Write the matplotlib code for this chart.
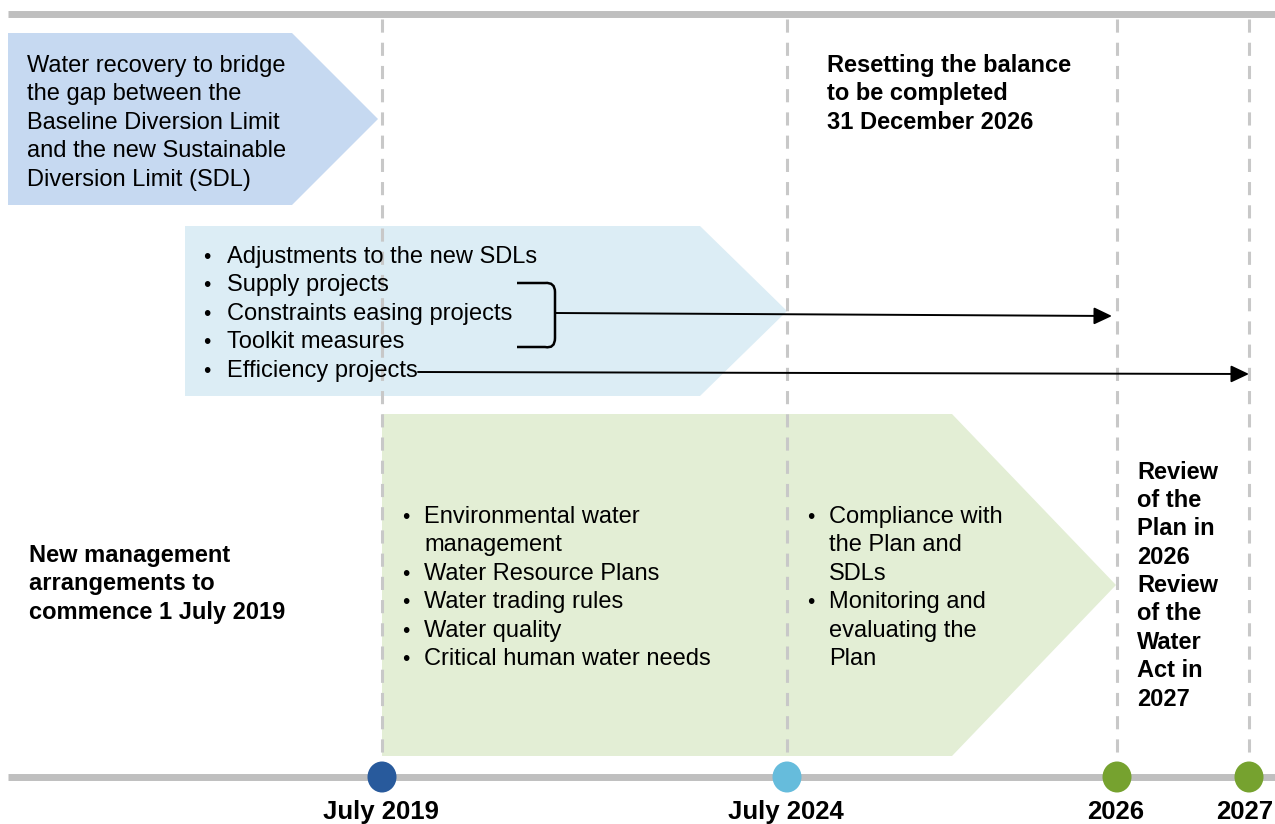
import matplotlib.pyplot as plt
from matplotlib.patches import Polygon, Ellipse, PathPatch
from matplotlib.path import Path

plt.rcParams['font.family'] = ['Liberation Sans', 'DejaVu Sans']

# ---- data (text of the timeline) ----
milestone_labels = ['July 2019', 'July 2024', '2026', '2027']
recovery_lines = ['Water recovery to bridge', 'the gap between the',
                  'Baseline Diversion Limit', 'and the new Sustainable',
                  'Diversion Limit (SDL)']
adjust_items = ['Adjustments to the new SDLs', 'Supply projects',
                'Constraints easing projects', 'Toolkit measures',
                'Efficiency projects']
mgmt_items = ['Environmental water\nmanagement', 'Water Resource Plans',
              'Water trading rules', 'Water quality',
              'Critical human water needs']
compliance_items = ['Compliance with\nthe Plan and\nSDLs',
                    'Monitoring and\nevaluating the\nPlan']
reset_lines = ['Resetting the balance', 'to be completed', '31 December 2026']
newmgmt_lines = ['New management', 'arrangements to', 'commence 1 July 2019']
review_lines = ['Review', 'of the', 'Plan in', '2026', 'Review', 'of the',
                'Water', 'Act in', '2027']

# ---- layout (pixel coords) ----
milestone_x = [382, 787, 1117, 1249]
milestone_colors = ['#285a9c', '#66bcdc', '#76a22f', '#76a22f']
gray = '#bfbfbf'
dash_gray = '#c8c8c8'
fs = 17
lh = 28.4

fig = plt.figure(figsize=(12.75, 8.24), dpi=100)
ax = fig.add_axes([0, 0, 1, 1])
ax.set_xlim(0, 1275)
ax.set_ylim(824, 0)
ax.axis('off')

# chevron shapes
def chevron(x0, x1, xtip, ytop, ybot, color):
    ymid = (ytop + ybot) / 2
    ax.add_patch(Polygon([(x0, ytop), (x1, ytop), (xtip, ymid), (x1, ybot), (x0, ybot)],
                         closed=True, facecolor=color, edgecolor='none', zorder=1))

chevron(8, 292, 378, 33, 205, '#c6d9f1')
chevron(185, 700, 787, 226, 396, '#dcedf5')
chevron(382, 952, 1116, 414, 756, '#e3eed5')

# horizontal rails
ax.plot([8, 1275], [13.5, 13.5], color=gray, lw=5, solid_capstyle='butt', zorder=2)
ax.plot([8, 1275], [777, 777], color=gray, lw=5, solid_capstyle='butt', zorder=2)

# dashed verticals
for x in milestone_x:
    ax.plot([x, x], [19, 770], color=dash_gray, lw=2.2, linestyle=(0, (4.3, 3.3)),
            solid_capstyle='butt', zorder=3)

# milestones
for x, c, lab in zip(milestone_x, milestone_colors, milestone_labels):
    ax.add_patch(Ellipse((x, 777), 29, 31, facecolor=c, edgecolor='none', zorder=4))
    ax.text(x - 1 if lab != '2027' else x - 4, 819, lab, ha='center', va='baseline',
            fontsize=18.5, fontweight='bold', zorder=5)

# plain text blocks
def block(x, y0, lines, bold=False):
    for i, s in enumerate(lines):
        ax.text(x, y0 + i * lh, s, fontsize=fs, va='baseline', ha='left',
                fontweight='bold' if bold else 'normal', zorder=5)

def bullets(xb, xt, y0, items):
    row = 0
    for item in items:
        for j, s in enumerate(item.split('\n')):
            y = y0 + row * lh
            if j == 0:
                ax.text(xb, y, '\u2022', fontsize=fs - 2, va='baseline', ha='left', zorder=5)
            ax.text(xt, y, s, fontsize=fs, va='baseline', ha='left', zorder=5)
            row += 1

block(27, 72, recovery_lines)
block(827, 72, reset_lines, bold=True)
block(29, 562, newmgmt_lines, bold=True)
block(1137, 478.5, review_lines, bold=True)
bullets(203, 227, 263, adjust_items)
bullets(402, 424, 523, mgmt_items)
bullets(807, 829, 523, compliance_items)

# bracket around middle items
verts = [(517, 283), (545, 283), (555, 282), (555, 292), (555, 338),
         (555, 349), (545, 347), (517, 347)]
codes = [Path.MOVETO, Path.LINETO, Path.CURVE3, Path.CURVE3, Path.LINETO,
         Path.CURVE3, Path.CURVE3, Path.LINETO]
ax.add_patch(PathPatch(Path(verts, codes), facecolor='none', edgecolor='black',
                       lw=1.8, zorder=5))

arrow_kw = dict(arrowstyle='-|>,head_length=0.55,head_width=0.26', mutation_scale=20,
                lw=1.4, color='black', shrinkA=0, shrinkB=0)
ax.annotate('', xy=(1112, 316), xytext=(556, 313), arrowprops=arrow_kw, zorder=6)
ax.annotate('', xy=(1249, 374), xytext=(418, 372), arrowprops=arrow_kw, zorder=6)

fig.savefig('out.png', dpi=100)
